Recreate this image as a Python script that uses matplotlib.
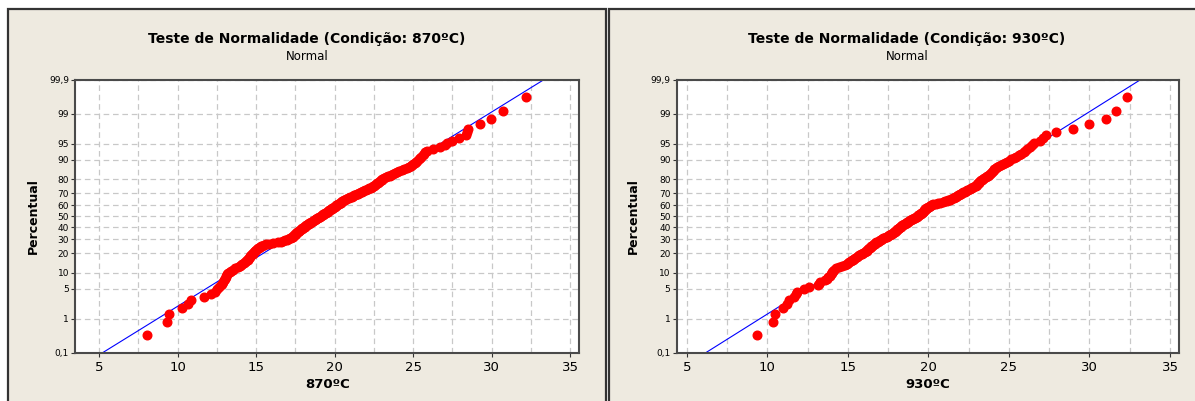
import math
import numpy as np
import matplotlib
matplotlib.use('Agg')
import matplotlib.pyplot as plt
from matplotlib.patches import Rectangle


temp_870 = [8.05, 9.3, 9.45, 10.25, 10.65, 10.85, 11.7, 12.1, 12.4, 12.5,
            12.65, 12.75, 12.85, 12.9, 12.95, 13.0, 13.05, 13.08, 13.12, 13.22,
            13.32, 13.42, 13.52, 13.68, 13.83, 13.96, 14.04, 14.12, 14.2, 14.27,
            14.35, 14.41, 14.46, 14.5, 14.55, 14.6, 14.64, 14.69, 14.74, 14.79,
            14.83, 14.86, 14.9, 14.95, 15.0, 15.05, 15.12, 15.18, 15.23, 15.3,
            15.4, 15.5, 15.62, 15.8, 16.1, 16.4, 16.6, 16.72, 16.85, 16.95,
            17.05, 17.15, 17.22, 17.28, 17.33, 17.37, 17.4, 17.45, 17.5, 17.52,
            17.57, 17.62, 17.66, 17.71, 17.76, 17.81, 17.85, 17.9, 17.95, 18.0,
            18.04, 18.09, 18.14, 18.18, 18.24, 18.29, 18.35, 18.4, 18.46, 18.51,
            18.57, 18.62, 18.68, 18.73, 18.79, 18.84, 18.9, 18.96, 19.01, 19.07,
            19.12, 19.18, 19.23, 19.29, 19.34, 19.4, 19.45, 19.5, 19.55, 19.61,
            19.66, 19.71, 19.76, 19.81, 19.86, 19.92, 19.97, 20.02, 20.07, 20.12,
            20.18, 20.23, 20.28, 20.33, 20.38, 20.43, 20.49, 20.54, 20.59, 20.67,
            20.75, 20.83, 20.92, 21.0, 21.08, 21.17, 21.25, 21.33, 21.42, 21.5,
            21.58, 21.67, 21.75, 21.84, 21.93, 22.02, 22.11, 22.2, 22.29, 22.38,
            22.45, 22.51, 22.57, 22.63, 22.69, 22.75, 22.81, 22.87, 22.93, 22.99,
            23.05, 23.14, 23.26, 23.38, 23.5, 23.62, 23.74, 23.86, 23.98, 24.12,
            24.28, 24.43, 24.59, 24.74, 24.85, 24.93, 25.02, 25.1, 25.18, 25.27,
            25.35, 25.44, 25.52, 25.61, 25.7, 25.78, 25.86, 26.3, 26.7, 27.05,
            27.15, 27.45, 27.95, 28.35, 28.45, 28.5, 29.25, 29.95, 30.7, 32.2]

temp_930 = [9.35, 10.35, 10.5, 10.95, 11.25, 11.35, 11.65, 11.78, 11.85, 12.25,
            12.6, 13.15, 13.22, 13.3, 13.6, 13.72, 13.8, 13.88, 13.95, 14.0,
            14.03, 14.06, 14.12, 14.25, 14.45, 14.62, 14.82, 14.95, 15.03, 15.1,
            15.18, 15.25, 15.32, 15.4, 15.47, 15.54, 15.62, 15.71, 15.79, 15.88,
            15.97, 16.06, 16.12, 16.17, 16.22, 16.27, 16.32, 16.37, 16.42, 16.47,
            16.52, 16.57, 16.62, 16.66, 16.71, 16.76, 16.85, 16.92, 16.99, 17.06,
            17.13, 17.2, 17.27, 17.34, 17.41, 17.48, 17.54, 17.61, 17.68, 17.72,
            17.83, 17.87, 17.91, 17.95, 17.99, 18.03, 18.07, 18.11, 18.15, 18.19,
            18.23, 18.28, 18.33, 18.38, 18.43, 18.48, 18.53, 18.59, 18.65, 18.7,
            18.76, 18.82, 18.88, 18.94, 19.0, 19.07, 19.13, 19.18, 19.23, 19.28,
            19.33, 19.38, 19.43, 19.48, 19.52, 19.56, 19.6, 19.64, 19.67, 19.71,
            19.75, 19.79, 19.82, 19.85, 19.88, 19.92, 19.97, 20.05, 20.12, 20.18,
            20.24, 20.3, 20.45, 20.6, 20.75, 20.9, 21.05, 21.15, 21.25, 21.33,
            21.42, 21.53, 21.59, 21.64, 21.7, 21.76, 21.82, 21.89, 21.96, 22.03,
            22.1, 22.18, 22.25, 22.32, 22.4, 22.48, 22.56, 22.65, 22.72, 22.8,
            22.88, 22.95, 23.0, 23.04, 23.08, 23.13, 23.17, 23.22, 23.27, 23.33,
            23.4, 23.48, 23.56, 23.64, 23.7, 23.76, 23.82, 23.88, 23.94, 24.0,
            24.05, 24.1, 24.17, 24.28, 24.4, 24.52, 24.64, 24.76, 24.88, 25.0,
            25.15, 25.3, 25.45, 25.62, 25.78, 25.92, 26.0, 26.15, 26.3, 26.45,
            26.55, 26.9, 27.1, 27.3, 27.95, 28.95, 29.95, 31.05, 31.65, 32.35]

# fitted normal line (mean, std dev) as drawn in the picture
fit_870 = (19.27, 4.54)
fit_930 = (19.67, 4.358)

pct_ticks = [0.1, 1, 5, 10, 20, 30, 40, 50, 60, 70, 80, 90, 95, 99, 99.9]
pct_labels = ['0,1', '1', '5', '10', '20', '30', '40', '50', '60', '70',
              '80', '90', '95', '99', '99,9']
x_ticks = [5, 10, 15, 20, 25, 30, 35]

BG = '#EEEAE0'
EDGE = '#333333'

_erf = np.vectorize(math.erf, otypes=[float])


def norm_cdf(z):
	z = np.asarray(z, float)
	if z.size == 0:
		return z.copy()
	return 0.5 * (1.0 + _erf(z / math.sqrt(2.0)))


def norm_ppf(p):
	p = np.clip(np.asarray(p, float), 1e-9, 1 - 1e-9)
	if p.size == 0:
		return p.copy()
	lo = np.full(p.shape, -8.0)
	hi = np.full(p.shape, 8.0)
	for _ in range(50):
		mid = (lo + hi) / 2
		below = norm_cdf(mid) < p
		lo = np.where(below, mid, lo)
		hi = np.where(below, hi, mid)
	return (lo + hi) / 2


def pct_forward(v):
	return norm_ppf(np.asarray(v, float) / 100.0)


def pct_inverse(z):
	return 100.0 * norm_cdf(z)


def prob_plot(fig, rect, data, fit, xlim, xlabel, ylabel_x):
	ax = fig.add_axes(rect)
	ax.set_facecolor('white')
	ax.set_yscale('function', functions=(pct_forward, pct_inverse))

	data = np.sort(np.array(data))
	n = len(data)
	ranks = np.arange(1, n + 1)
	pct = (ranks - 0.3) / (n + 0.4) * 100

	mean, sd = fit
	line_p = np.array([0.1, 50, 99.9])
	line_x = mean + sd * pct_forward(line_p)
	ax.plot(line_x, line_p, color='#0000FF', lw=0.8, zorder=2)
	ax.plot(data, pct, 'o', color='#FF0000', mec='#FF0000', ms=6.2, zorder=3)

	ax.set_xlim(*xlim)
	ax.set_ylim(0.1, 99.9)
	ax.set_xticks(x_ticks)
	ax.set_xticks(np.arange(7.5, 35, 5), minor=True)
	ax.set_yticks(pct_ticks)
	ax.set_yticklabels(pct_labels)
	ax.yaxis.set_minor_locator(matplotlib.ticker.NullLocator())
	ax.grid(True, which='both', axis='x', color='#C8C8C8', lw=0.9, ls=(0, (4.5, 3)))
	ax.grid(True, which='major', axis='y', color='#C8C8C8', lw=0.9, ls=(0, (4.5, 3)))
	ax.set_axisbelow(True)
	ax.tick_params(axis='x', which='major', labelsize=9.5, length=3, pad=3, color=EDGE)
	ax.tick_params(axis='x', which='minor', length=0)
	ax.tick_params(axis='y', labelsize=6.5, length=3, pad=1.5, color=EDGE)
	for s in ax.spines.values():
		s.set_color('#4A4A4A')
		s.set_linewidth(1.5)

	cx = rect[0] + rect[2] / 2
	fig.text(cx, 0.04, xlabel, ha='center', va='center', fontsize=9.5, fontweight='bold')
	fig.text(ylabel_x, rect[1] + rect[3] / 2, 'Percentual', ha='center', va='center',
	         rotation=90, fontsize=9, fontweight='bold')
	return ax


fig = plt.figure(figsize=(11.95, 4.01), dpi=100)
fig.patch.set_facecolor('white')

# panel frames, kept behind the axes
fig.patches.append(Rectangle((8 / 1195, -0.05), 598 / 1195, 1.05 - 9 / 401,
                             transform=fig.transFigure, facecolor=BG,
                             edgecolor=EDGE, lw=1.6, zorder=-5))
fig.patches.append(Rectangle((609 / 1195, -0.05), 0.6, 1.05 - 9 / 401,
                             transform=fig.transFigure, facecolor=BG,
                             edgecolor=EDGE, lw=1.6, zorder=-5))

prob_plot(fig, [0.0630, 0.1209, 0.4219, 0.6796], temp_870, fit_870,
          (3.48, 35.6), '870ºC', 0.0282)
prob_plot(fig, [0.5663, 0.1209, 0.4206, 0.6796], temp_930, fit_930,
          (4.38, 35.58), '930ºC', 0.530)

for cx, title in [(0.2569, 'Teste de Normalidade (Condição: 870ºC)'),
                  (0.7590, 'Teste de Normalidade (Condição: 930ºC)')]:
	fig.text(cx, 0.9027, title, ha='center', va='center', fontsize=10, fontweight='bold')
	fig.text(cx, 0.8603, 'Normal', ha='center', va='center', fontsize=8.5)

plt.savefig('out.png', dpi=100, facecolor=fig.get_facecolor())
plt.close()
